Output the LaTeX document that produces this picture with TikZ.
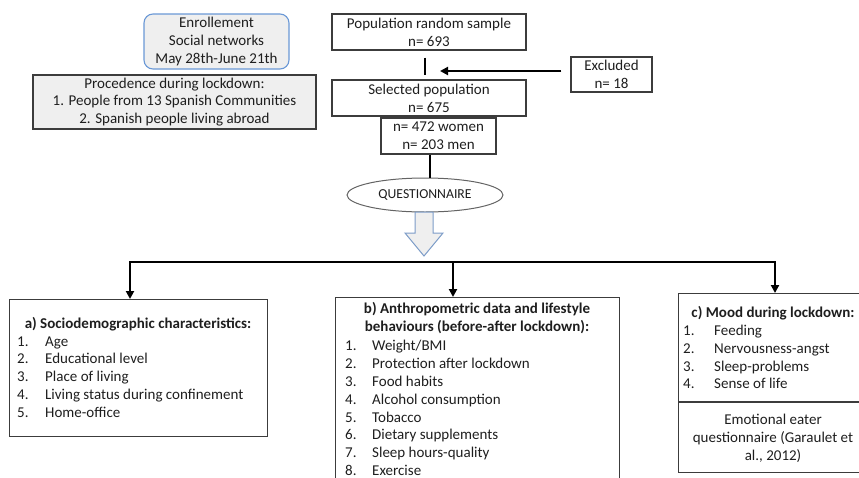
\documentclass[tikz,border=0pt]{standalone}
\usepackage{fontspec}
\setmainfont{Carlito}
\usetikzlibrary{arrows.meta,calc,shapes.geometric}
\definecolor{boxc}{HTML}{3C3C3C}
\definecolor{txt}{HTML}{1E1E1E}
\definecolor{fillg}{HTML}{EFEFEF}
\definecolor{blueb}{HTML}{6A98D6}
\definecolor{arrowb}{HTML}{7C9CC8}
\newcommand\myfs{\fontsize{15}{17.8}\selectfont}
\begin{document}
\begin{tikzpicture}[x=1pt,y=-1pt,
  box/.style={draw=boxc, line width=1.1pt, inner sep=0pt, align=center, text=txt, font=\myfs},
  txtn/.style={inner sep=0pt, text=txt, font=\myfs},
  conn/.style={line width=2.4pt, draw=black},
  tip/.style={-{Triangle[length=8pt,width=8pt]}},
  tips/.style={{Triangle[length=8pt,width=8pt]}-{Triangle[length=8pt,width=8pt]}}
]
\useasboundingbox (0,0) rectangle (859,477);
\clip (0,0) rectangle (859,477);

% top-left boxes
\node[box, draw=blueb, fill=fillg, rounded corners=9pt, minimum width=145pt, minimum height=55pt] (enr) at (216.5,41.5)
  {Enrollement\\Social networks\\May 28th-June 21th};
\node[box, fill=fillg, minimum width=283pt, minimum height=54pt] (proc) at (174.5,102)
  {Procedence during lockdown:\\1. People from 13 Spanish Communities\\2. Spanish people living abroad};

% flow boxes
\node[box, minimum width=194pt, minimum height=36pt] (pop) at (429,32) {Population random sample\\n= 693};
\node[box, minimum width=194pt, minimum height=36pt] (sel) at (429,98) {Selected population\\n= 675};
\node[box, minimum width=115pt, minimum height=36pt] (sex) at (438.5,136) {n= 472 women\\n= 203 men};
\node[box, minimum width=81pt, minimum height=35pt] (excl) at (611.5,74.5) {Excluded\\n= 18};
\node[ellipse, draw=boxc!80, line width=1pt, inner sep=0pt, minimum width=156pt, minimum height=34pt,
      text=txt, font=\fontsize{13.7}{16}\selectfont] (q) at (425,195) {QUESTIONNAIRE};

\coordinate (extip) at (440,71);
\draw[conn, shorten <=7pt, shorten >=4pt] (pop.south -| 425,0) -- (sel.north -| 425,0);
\draw[conn, tip, shorten <=9pt] ([yshift=3.5pt]excl.west) -- (extip);
\draw[conn] (sex.south -| 430,0) -- (q.north -| 430,0);

% block arrow
\draw[draw=arrowb, fill=fillg, line width=1pt, line join=miter]
  (415,212) -- (433,212) -- (433,233) -- (443,233) -- (424,256) -- (405,233) -- (415,233) -- cycle;

% bottom boxes
\node[box, minimum width=258pt, minimum height=137pt, anchor=north west] (a) at (9,299) {};
\node[box, minimum width=284pt, minimum height=220pt, anchor=north west] (b) at (335,297) {};
\node[box, minimum width=200pt, minimum height=179pt, anchor=north west] (c) at (678,293) {};
\coordinate (divy) at (0,402);
\draw[draw=boxc, line width=1.1pt] (c.west |- divy) -- (c.east |- divy);

% bus connectors
\coordinate (busL) at (130,262);
\coordinate (busM) at (453,262);
\coordinate (busR) at (775,262);
\draw[conn, tips, line join=miter] (a.north -| busL) -- (busL) -- (busR) -- (c.north -| busR);
\draw[conn, tip] (busM) -- (b.north -| busM);

% box a text
\node[txtn, font=\myfs\bfseries] (ah) at (138,324) {a) Sociodemographic characteristics:};
\node[txtn, anchor=west, align=left] (al) at (17,377)
  {\makebox[28pt][l]{1.}Age\\
   \makebox[28pt][l]{2.}Educational level\\
   \makebox[28pt][l]{3.}Place of living\\
   \makebox[28pt][l]{4.}Living status during confinement\\
   \makebox[28pt][l]{5.}Home-office};

% box b text
\node[txtn, font=\myfs\bfseries, align=center] (bh) at (477,318)
  {b) Anthropometric data and lifestyle\\behaviours (before-after lockdown):};
\node[txtn, anchor=west, align=left] (bl) at (345,408)
  {\makebox[27pt][l]{1.}Weight/BMI\\
   \makebox[27pt][l]{2.}Protection after lockdown\\
   \makebox[27pt][l]{3.}Food habits\\
   \makebox[27pt][l]{4.}Alcohol consumption\\
   \makebox[27pt][l]{5.}Tobacco\\
   \makebox[27pt][l]{6.}Dietary supplements\\
   \makebox[27pt][l]{7.}Sleep hours-quality\\
   \makebox[27pt][l]{8.}Exercise};

% box c text
\node[txtn, font=\myfs\bfseries] (ch) at (773,313) {c) Mood during lockdown:};
\node[txtn, anchor=west, align=left] (cl) at (683,357)
  {\makebox[31pt][l]{1.}Feeding\\
   \makebox[31pt][l]{2.}Nervousness-angst\\
   \makebox[31pt][l]{3.}Sleep-problems\\
   \makebox[31pt][l]{4.}Sense of life};
\node[txtn, align=center] (ce) at (773,438.5) {Emotional eater\\questionnaire (Garaulet et\\al., 2012)};
\end{tikzpicture}
\end{document}
